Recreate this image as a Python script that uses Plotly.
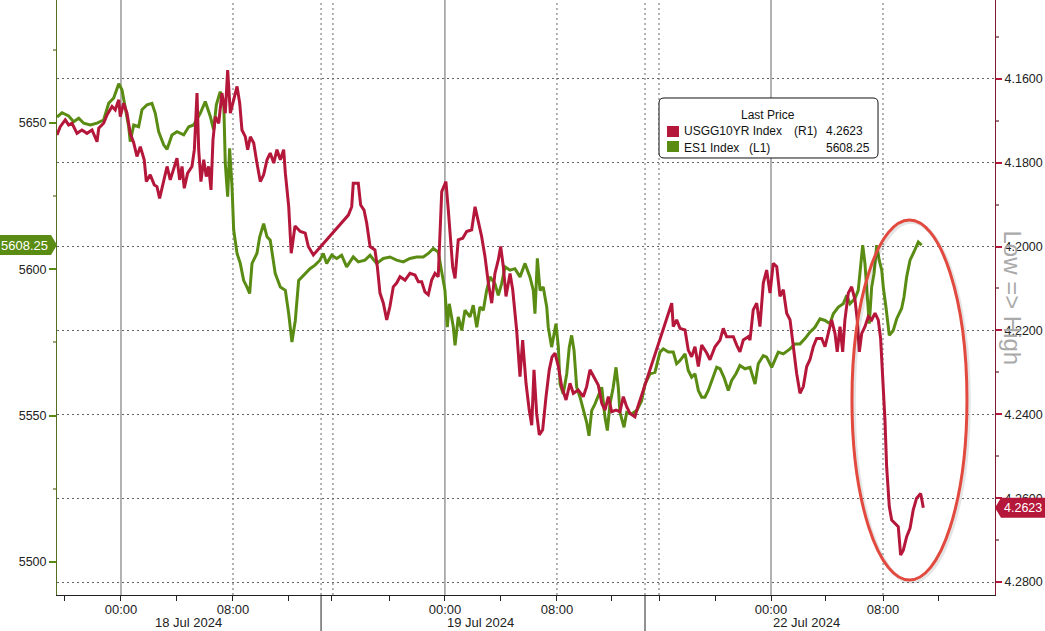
import plotly.graph_objects as go

# ---------------- DATA ----------------
# x = trading-session hours from 18 Jul 2024 00:00 (non-trading gaps removed)
es_x = [-4.57, -4.21, -3.74, -3.38, -3.02, -2.66, -2.19, -1.71, -1.24, -0.88, -0.52, -0.16, 0.07, 0.31, 0.55,
        0.66, 0.91, 1.26, 1.5, 1.86, 2.21, 2.45, 2.69, 3.05, 3.29, 3.64, 4.0, 4.48, 4.84, 5.19, 5.66, 6.02,
        6.38, 6.62, 6.81, 7.09, 7.34, 7.45, 7.62, 7.76, 7.93, 8.05, 8.29, 8.52, 8.76, 9.0, 9.19, 9.36, 9.71,
        9.91, 10.19, 10.43, 10.66, 11.02, 11.38, 11.74, 11.98, 12.21, 12.45, 12.69, 13.05, 13.5, 13.86, 14.21,
        14.45, 14.69, 15.05, 15.41, 15.76, 16.12, 16.59, 16.95, 17.43, 17.79, 18.26, 18.74, 19.21, 19.69,
        20.16, 20.64, 21.12, 21.59, 21.95, 22.31, 22.66, 22.91, 23.14, 23.31, 23.45, 23.74, 23.86, 24.09,
        24.34, 24.57, 24.93, 25.16, 25.41, 25.64, 25.88, 26.12, 26.36, 26.71, 26.95, 27.19, 27.43, 27.79,
        28.14, 28.5, 28.86, 29.21, 29.45, 29.57, 29.74, 29.93, 30.16, 30.41, 30.52, 30.76, 31.07, 31.24,
        31.36, 31.59, 31.84, 32.02, 32.19, 32.36, 32.55, 32.79, 33.02, 33.26, 33.43, 33.62, 33.86, 34.09,
        34.34, 34.57, 34.74, 34.93, 35.16, 35.36, 35.52, 35.64, 35.93, 36.12, 36.48, 36.84, 37.19, 37.43,
        37.79, 38.14, 38.5, 38.74, 39.09, 39.45, 39.69, 39.93, 40.29, 40.52, 40.76, 41.0, 41.24, 41.48,
        41.71, 41.95, 42.26, 42.55, 42.79, 43.07, 43.38, 43.62, 43.93, 44.21, 44.57, 44.93, 45.29, 45.52,
        45.88, 46.12, 46.48, 46.71, 46.95, 47.31, 47.79, 48.14, 48.5, 48.86, 49.21, 49.57, 49.93, 50.29,
        50.64, 50.88, 51.24, 51.59, 51.84, 52.07, 52.43, 52.66, 52.98, 53.14, 53.31, 53.45, 53.62, 53.79,
        53.98, 54.16, 54.34, 54.45, 54.64, 54.88, 55.16, 55.41, 55.76, 55.93, 56.12, 56.36, 56.64, 56.95,
        57.19]
es_y = [5652.0, 5653.5, 5652.4, 5650.4, 5651.6, 5649.9, 5649.3, 5649.9, 5651.0, 5656.7, 5658.5, 5663.4, 5661.3,
        5654.5, 5648.7, 5643.6, 5649.3, 5648.7, 5654.5, 5656.2, 5656.7, 5653.3, 5647.0, 5642.5, 5641.0, 5645.9,
        5647.0, 5645.9, 5648.7, 5649.3, 5653.3, 5657.3, 5652.2, 5647.6, 5656.2, 5660.7, 5656.7, 5636.2, 5624.8,
        5641.3, 5628.2, 5613.4, 5605.4, 5602.0, 5596.2, 5593.9, 5591.7, 5602.0, 5605.4, 5611.1, 5615.6, 5611.1,
        5609.9, 5598.5, 5593.9, 5592.8, 5584.8, 5575.1, 5582.5, 5596.2, 5597.9, 5600.2, 5601.4, 5603.1, 5605.4,
        5602.0, 5604.8, 5603.7, 5604.8, 5600.8, 5604.2, 5602.5, 5603.1, 5604.8, 5602.0, 5603.7, 5604.2, 5603.1,
        5602.5, 5603.7, 5604.2, 5604.2, 5605.4, 5607.1, 5605.9, 5599.7, 5592.8, 5580.2, 5588.2, 5580.2, 5574.0,
        5583.7, 5579.1, 5586.0, 5583.7, 5587.7, 5580.2, 5587.1, 5586.0, 5592.8, 5597.4, 5595.1, 5591.1, 5595.1,
        5600.8, 5599.7, 5600.2, 5597.4, 5602.0, 5597.4, 5592.8, 5584.8, 5603.7, 5592.8, 5593.9, 5587.1, 5580.2,
        5573.4, 5581.4, 5573.4, 5560.8, 5557.4, 5564.3, 5573.4, 5577.4, 5572.3, 5559.7, 5556.3, 5551.7, 5547.7,
        5543.1, 5551.7, 5554.0, 5556.8, 5559.7, 5549.4, 5544.9, 5554.0, 5559.7, 5566.5, 5559.7, 5551.1, 5546.0,
        5551.1, 5550.6, 5551.7, 5555.1, 5560.8, 5564.3, 5564.8, 5571.7, 5572.8, 5571.7, 5571.7, 5567.7, 5568.8,
        5571.1, 5565.4, 5563.1, 5564.3, 5558.6, 5556.3, 5556.3, 5558.6, 5563.1, 5566.5, 5566.0, 5563.1, 5558.6,
        5562.0, 5564.3, 5567.1, 5566.0, 5566.5, 5560.8, 5567.7, 5570.5, 5570.0, 5566.5, 5568.8, 5571.7, 5571.1,
        5572.8, 5574.5, 5574.5, 5576.3, 5578.5, 5580.2, 5583.1, 5582.5, 5581.4, 5584.8, 5587.1, 5588.2, 5591.1,
        5588.2, 5590.0, 5592.8, 5608.2, 5602.0, 5589.4, 5581.4, 5593.9, 5598.5, 5608.2, 5603.1, 5599.7, 5593.9,
        5587.1, 5577.4, 5579.1, 5583.1, 5586.6, 5590.5, 5597.4, 5603.1, 5605.9, 5609.3, 5608.25]

ust_x = [-4.57, -4.34, -3.98, -3.74, -3.5, -3.14, -2.79, -2.43, -2.07, -1.71, -1.59, -1.24, -1.0, -0.64, -0.41,
         -0.16, -0.05, 0.19, 0.43, 0.66, 0.91, 1.14, 1.38, 1.66, 1.81, 2.09, 2.38, 2.57, 2.76, 3.0, 3.29, 3.52,
         3.76, 4.0, 4.19, 4.36, 4.52, 4.76, 5.07, 5.24, 5.43, 5.55, 5.71, 5.91, 6.09, 6.26, 6.43, 6.57, 6.74,
         6.98, 7.21, 7.45, 7.62, 7.81, 8.05, 8.29, 8.48, 8.64, 8.88, 9.05, 9.24, 9.48, 9.71, 9.95, 10.19, 10.43,
         10.66, 10.91, 11.14, 11.38, 11.62, 11.74, 11.98, 12.16, 12.43, 12.81, 13.16, 13.38, 13.74, 16.24, 16.48,
         16.59, 16.95, 17.12, 17.36, 17.55, 17.79, 18.14, 18.31, 18.5, 18.74, 18.98, 19.21, 19.45, 19.69, 19.93,
         20.29, 20.64, 21.0, 21.24, 21.48, 21.71, 21.95, 22.19, 22.43, 22.66, 22.91, 23.21, 23.38, 23.5, 23.69,
         23.86, 24.09, 24.41, 24.69, 25.05, 25.29, 25.52, 25.76, 26.0, 26.24, 26.48, 26.71, 26.95, 27.12, 27.31,
         27.5, 27.79, 27.98, 28.26, 28.5, 28.69, 28.93, 29.16, 29.34, 29.5, 29.69, 29.88, 30.12, 30.36, 30.59,
         30.79, 31.0, 31.24, 31.48, 31.79, 32.07, 32.31, 32.66, 33.02, 33.26, 33.5, 33.79, 34.09, 34.34, 34.57,
         34.81, 35.05, 35.36, 35.64, 35.88, 36.12, 36.36, 36.71, 36.84, 39.34, 39.45, 39.69, 39.93, 40.29, 40.52,
         40.76, 41.0, 41.24, 41.48, 41.84, 42.07, 42.43, 42.79, 43.02, 43.26, 43.74, 43.98, 44.21, 44.45, 44.81,
         44.93, 45.16, 45.41, 45.64, 45.88, 46.12, 46.36, 46.59, 46.84, 47.07, 47.31, 47.55, 47.79, 48.02, 48.26,
         48.5, 48.74, 48.98, 49.21, 49.45, 49.69, 50.05, 50.29, 50.52, 50.76, 51.0, 51.16, 51.36, 51.55, 51.71,
         51.95, 52.19, 52.43, 52.59, 52.74, 52.91, 53.14, 53.38, 53.62, 53.86, 54.09, 54.26, 54.45, 54.57, 54.69,
         54.88, 55.05, 55.29, 55.52, 55.69, 55.88, 56.12, 56.36, 56.59, 56.83, 57.12, 57.31]
ust_y = [4.1734, 4.1714, 4.1698, 4.1710, 4.1706, 4.1730, 4.1722, 4.1730, 4.1722, 4.1750, 4.1718, 4.1706, 4.1686,
         4.1666, 4.1674, 4.1650, 4.1690, 4.1658, 4.1682, 4.1730, 4.1753, 4.1785, 4.1762, 4.1793, 4.1845, 4.1829,
         4.1853, 4.1857, 4.1885, 4.1849, 4.1809, 4.1841, 4.1817, 4.1789, 4.1841, 4.1809, 4.1861, 4.1825, 4.1809,
         4.1769, 4.1634, 4.1769, 4.1845, 4.1793, 4.1833, 4.1809, 4.1865, 4.1746, 4.1690, 4.1706, 4.1634, 4.1682,
         4.1579, 4.1682, 4.1650, 4.1618, 4.1658, 4.1722, 4.1738, 4.1769, 4.1738, 4.1753, 4.1801, 4.1845, 4.1829,
         4.1793, 4.1777, 4.1801, 4.1769, 4.1793, 4.1769, 4.1825, 4.1905, 4.2016, 4.1951, 4.1964, 4.1968, 4.2000,
         4.2020, 4.1925, 4.1905, 4.1849, 4.1849, 4.1901, 4.1913, 4.1944, 4.2000, 4.2008, 4.2048, 4.2111, 4.2135,
         4.2175, 4.2143, 4.2096, 4.2087, 4.2072, 4.2080, 4.2064, 4.2068, 4.2084, 4.2084, 4.2108, 4.2115, 4.2080,
         4.2064, 4.2072, 4.1869, 4.1845, 4.1913, 4.1976, 4.2048, 4.2076, 4.1984, 4.1980, 4.1964, 4.1960, 4.1905,
         4.1940, 4.1976, 4.2024, 4.2087, 4.2135, 4.2064, 4.2032, 4.2000, 4.2048, 4.2119, 4.2064, 4.2103, 4.2199,
         4.2310, 4.2223, 4.2326, 4.2390, 4.2426, 4.2294, 4.2398, 4.2449, 4.2437, 4.2358, 4.2294, 4.2263, 4.2254,
         4.2286, 4.2334, 4.2366, 4.2326, 4.2350, 4.2342, 4.2358, 4.2334, 4.2294, 4.2310, 4.2330, 4.2374, 4.2390,
         4.2358, 4.2394, 4.2390, 4.2394, 4.2358, 4.2382, 4.2398, 4.2406, 4.2390, 4.2135, 4.2191, 4.2175, 4.2195,
         4.2199, 4.2247, 4.2263, 4.2239, 4.2286, 4.2235, 4.2254, 4.2270, 4.2239, 4.2223, 4.2195, 4.2215, 4.2215,
         4.2235, 4.2251, 4.2223, 4.2215, 4.2223, 4.2151, 4.2135, 4.2191, 4.2087, 4.2056, 4.2111, 4.2040, 4.2048,
         4.2119, 4.2103, 4.2159, 4.2175, 4.2239, 4.2302, 4.2350, 4.2334, 4.2286, 4.2270, 4.2239, 4.2219, 4.2219,
         4.2239, 4.2207, 4.2175, 4.2207, 4.2251, 4.2191, 4.2251, 4.2175, 4.2111, 4.2096, 4.2127, 4.2175, 4.2251,
         4.2207, 4.2191, 4.2167, 4.2175, 4.2159, 4.2175, 4.2219, 4.2326, 4.2414, 4.2525, 4.2620, 4.2652, 4.2660,
         4.2668, 4.2736, 4.2724, 4.2692, 4.2672, 4.2628, 4.2600, 4.2589, 4.2623]

# axis ticks / labels
x_tickvals = [-4, 0, 4, 8, 11.93, 15.07, 19.21, 23.14, 27.14, 31.14, 35.07, 38.43, 42.43, 46.43, 50.29, 54.43, 58.36]
x_ticktext = ["", "00:00", "", "08:00", "", "", "", "00:00", "", "08:00", "", "", "", "00:00", "", "08:00", ""]
day_labels = ["18 Jul 2024", "19 Jul 2024", "22 Jul 2024"]
day_label_pos = [4.79, 25.71, 49.0]
day_separators = [14.29, 37.43]
midnight_lines = [0, 23.14, 46.43]
dotted_vlines = [8, 14.29, 15.14, 31.14, 37.43, 38.43, 54.43]
left_ticks = [5500, 5550, 5600, 5650]
left_minor = [5525, 5575, 5625, 5675]
right_ticks = [4.16, 4.18, 4.20, 4.22, 4.24, 4.26, 4.28]
right_minor = [4.15, 4.17, 4.19, 4.21, 4.23, 4.25, 4.27]

RED = "#b5173b"
GREEN = "#5a8c14"
FONT = "Liberation Sans, Arial, sans-serif"

fig = go.Figure()
fig.add_trace(go.Scatter(x=ust_x, y=ust_y, yaxis="y2", mode="lines",
                         line=dict(color=RED, width=3), name="USGG10YR Index"))
fig.add_trace(go.Scatter(x=es_x, y=es_y, yaxis="y", mode="lines",
                         line=dict(color=GREEN, width=3), name="ES1 Index"))

shapes = []
for v in midnight_lines:
    shapes.append(dict(type="line", xref="x", yref="paper", x0=v, x1=v, y0=0, y1=1,
                       line=dict(color="#666666", width=1), layer="below"))
for v in dotted_vlines:
    shapes.append(dict(type="line", xref="x", yref="paper", x0=v, x1=v, y0=0, y1=1,
                       line=dict(color="#666666", width=1, dash="2px,3px"), layer="below"))
for v in day_separators:
    shapes.append(dict(type="line", xref="x", yref="paper", x0=v, x1=v, y0=0, y1=-0.07,
                       line=dict(color="#222222", width=1), layer="above"))

# legend box (rounded corners)
r = 5
hw, hh = 109.5, 30
legend_path = (f"M{-hw + r},{-hh} L{hw - r},{-hh} Q{hw},{-hh} {hw},{-hh + r} L{hw},{hh - r} "
               f"Q{hw},{hh} {hw - r},{hh} L{-hw + r},{hh} Q{-hw},{hh} {-hw},{hh - r} "
               f"L{-hw},{-hh + r} Q{-hw},{-hh} {-hw + r},{-hh} Z")
shapes.append(dict(type="path", xref="paper", yref="paper", xsizemode="pixel", ysizemode="pixel",
                   xanchor=0.75855, yanchor=0.7849, path=legend_path,
                   line=dict(color="#111111", width=1), fillcolor="white", layer="above"))
shapes.append(dict(type="rect", xref="paper", yref="paper", x0=0.6503, x1=0.6631, y0=0.7697, y1=0.7882,
                   line=dict(width=0), fillcolor=RED, layer="above"))
shapes.append(dict(type="rect", xref="paper", yref="paper", x0=0.6503, x1=0.6631, y0=0.7445, y1=0.7630,
                   line=dict(width=0), fillcolor=GREEN, layer="above"))

# last-price tags
shapes.append(dict(type="path", xref="paper", yref="y", xsizemode="pixel", ysizemode="pixel",
                   xanchor=0, yanchor=es_y[-1],
                   path="M-57,-10 L-6,-10 L0,0 L-6,10 L-57,10 Z",
                   fillcolor=GREEN, line=dict(width=0), layer="above"))
shapes.append(dict(type="path", xref="paper", yref="y2", xsizemode="pixel", ysizemode="pixel",
                   xanchor=1, yanchor=ust_y[-1],
                   path="M0,0 L6,-10 L52,-10 L52,10 L6,10 Z",
                   fillcolor=RED, line=dict(width=0), layer="above"))

# highlight ellipse
shapes.append(dict(type="circle", xref="paper", yref="paper", x0=0.8495, x1=0.9721, y0=0.0222, y1=0.6273,
                   line=dict(color="rgba(0,0,0,0.10)", width=4), layer="above"))
shapes.append(dict(type="circle", xref="paper", yref="paper", x0=0.8475, x1=0.9701, y0=0.0252, y1=0.6303,
                   line=dict(color="#e2493f", width=3), layer="above"))

annotations = []
for t, p in zip(day_labels, day_label_pos):
    annotations.append(dict(text=t, x=p, xref="x", y=-0.047, yref="paper", showarrow=False,
                            font=dict(family=FONT, size=13, color="#222222"), xanchor="center", yanchor="middle"))
annotations.append(dict(text=f"{es_y[-1]:.2f}", x=0, xref="paper", y=es_y[-1], yref="y", xanchor="right",
                        xshift=-7, showarrow=False, font=dict(family=FONT, size=13, color="white")))
annotations.append(dict(text=f"{ust_y[-1]:.4f}", x=1, xref="paper", y=ust_y[-1], yref="y2", xanchor="left",
                        xshift=7, showarrow=False, font=dict(family=FONT, size=12.5, color="white")))
annotations.append(dict(text="Low => High", x=1.0352, xref="paper", y=0.4992, yref="paper", textangle=90,
                        showarrow=False, font=dict(family=FONT, size=24, color="#aaaaaa")))
lf = dict(family=FONT, size=12, color="#111111")
annotations += [
    dict(text="Last Price", x=0.758, y=0.8067, xanchor="center", font=lf),
    dict(text="USGG10YR Index", x=0.6663, y=0.7798, xanchor="left", font=lf),
    dict(text="(R1)", x=0.7836, y=0.7798, xanchor="left", font=lf),
    dict(text=f"{ust_y[-1]:.4f}", x=0.8614, y=0.7798, xanchor="right", font=lf),
    dict(text="ES1 Index", x=0.6663, y=0.7513, xanchor="left", font=lf),
    dict(text="(L1)", x=0.7356, y=0.7513, xanchor="left", font=lf),
    dict(text=f"{es_y[-1]:.2f}", x=0.8689, y=0.7513, xanchor="right", font=lf),
]
for a in annotations[-7:]:
    a.update(xref="paper", yref="paper", yanchor="middle", showarrow=False)

fig.update_layout(
    width=1045, height=631, autosize=False,
    margin=dict(l=57, r=50, t=0, b=36),
    paper_bgcolor="white", plot_bgcolor="white",
    showlegend=False,
    font=dict(family=FONT, size=12, color="#222222"),
    xaxis=dict(range=[-4.571, 62.43], showgrid=False, zeroline=False, showline=True,
               linecolor="#222222", linewidth=1, ticks="outside", ticklen=5, tickcolor="#222222",
               ticklabelstandoff=-3,
               tickvals=x_tickvals, ticktext=x_ticktext, tickfont=dict(size=13, color="#222222")),
    yaxis=dict(range=[5488.7, 5692.0], side="left", showgrid=False, zeroline=False, showline=True,
               linecolor="#55701f", linewidth=1, ticks="outside", ticklen=7, tickwidth=2,
               tickcolor=GREEN, tickvals=left_ticks, tickfont=dict(size=12.5, color="#222222"),
               minor=dict(tickvals=left_minor, ticks="outside", ticklen=3, tickcolor="#9aa77a")),
    yaxis2=dict(range=[4.2831, 4.1412], overlaying="y", side="right", zeroline=False, showline=True,
                linecolor="#7d1a2c", linewidth=1, ticks="outside", ticklen=6, tickwidth=2,
                tickcolor=RED, tickvals=right_ticks, tickformat=".4f",
                tickfont=dict(size=12.5, color="#222222"),
                showgrid=True, gridcolor="#666666", gridwidth=1, griddash="2px,3px",
                minor=dict(tickvals=right_minor, ticks="outside", ticklen=3, tickcolor="#a07a80")),
    shapes=shapes,
    annotations=annotations,
)

fig.write_html("out.html", config={"displayModeBar": False},
               post_script="document.body.style.margin='0';document.body.style.overflow='hidden';")
